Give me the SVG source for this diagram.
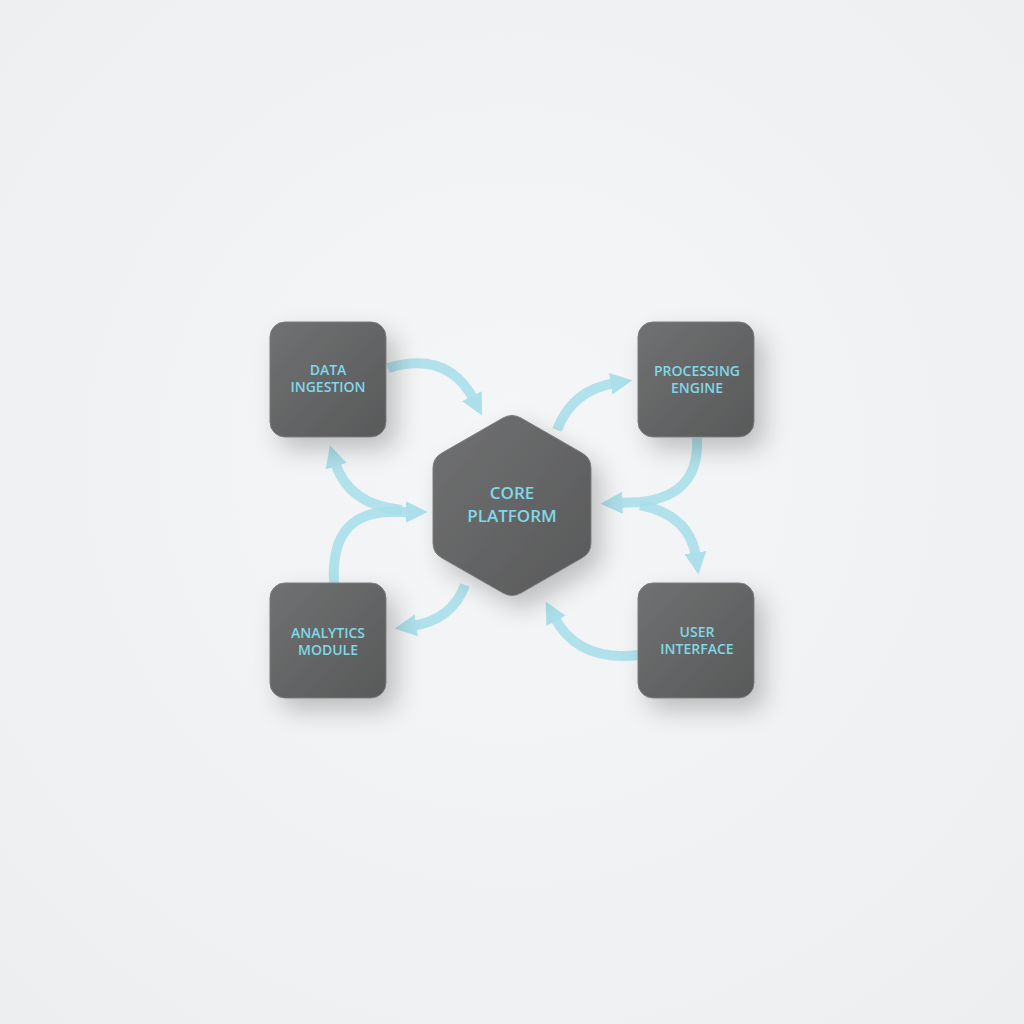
<svg xmlns="http://www.w3.org/2000/svg" width="1024" height="1024" viewBox="0 0 1024 1024">
  <defs>
    <radialGradient id="bg" cx="50%" cy="45%" r="75%">
      <stop offset="0" stop-color="#f5f6f7"/>
      <stop offset="1" stop-color="#eceeef"/>
    </radialGradient>
    <linearGradient id="box" x1="0" y1="0" x2="1" y2="1">
      <stop offset="0" stop-color="#707172"/>
      <stop offset="1" stop-color="#58595a"/>
    </linearGradient>
    <filter id="shadow" x="-40%" y="-40%" width="190%" height="190%">
      <feDropShadow dx="10" dy="12" stdDeviation="12" flood-color="#000" flood-opacity="0.22"/>
    </filter>
    <marker id="ah" viewBox="0 0 10 10" refX="2" refY="5" markerWidth="22" markerHeight="24" markerUnits="userSpaceOnUse" orient="auto">
      <path d="M0,0 L10,5 L0,10 Z" fill="#a3dde9"/>
    </marker>
    <style>
      .node rect, .node path { fill: url(#box); filter: url(#shadow); stroke: #7a7b7c; stroke-width: 1; }
      .lbl { font-family: "Open Sans", "Liberation Sans", sans-serif; font-size: 14px; font-weight: 600; fill: #80d8e8; text-anchor: middle; }
      .big { font-size: 17px; }
      .conn path { fill: none; stroke: #a8dfea; stroke-width: 10; stroke-linecap: butt; opacity: 0.88; }
    </style>
  </defs>
  <rect width="1024" height="1024" fill="url(#bg)"/>

  <g id="connectors" class="conn">
    <path d="M388 368 Q448 350 474 400" marker-end="url(#ah)"/>
    <path d="M402 510 Q348 505 335 462" marker-end="url(#ah)"/>
    <path d="M334 583 Q330 514 388 512 L410 512" marker-end="url(#ah)"/>
    <path d="M557 430 Q572 390 615 383" marker-end="url(#ah)"/>
    <path d="M697 438 Q700 496 640 502 L618 503" marker-end="url(#ah)"/>
    <path d="M640 505 Q690 515 696 557" marker-end="url(#ah)"/>
    <path d="M638 655 Q578 662 554 617" marker-end="url(#ah)"/>
    <path d="M465 585 Q452 620 412 626" marker-end="url(#ah)"/>
  </g>

  <g id="data-ingestion" class="node">
    <rect x="270" y="322" width="116" height="115" rx="15"/>
    <text class="lbl" x="328" y="375">DATA</text>
    <text class="lbl" x="328" y="392">INGESTION</text>
  </g>
  <g id="processing-engine" class="node">
    <rect x="638" y="322" width="116" height="115" rx="15"/>
    <text class="lbl" x="697" y="376">PROCESSING</text>
    <text class="lbl" x="697" y="393">ENGINE</text>
  </g>
  <g id="analytics-module" class="node">
    <rect x="270" y="583" width="116" height="115" rx="15"/>
    <text class="lbl" x="328" y="638">ANALYTICS</text>
    <text class="lbl" x="328" y="655">MODULE</text>
  </g>
  <g id="user-interface" class="node">
    <rect x="638" y="583" width="116" height="115" rx="15"/>
    <text class="lbl" x="697" y="637">USER</text>
    <text class="lbl" x="697" y="654">INTERFACE</text>
  </g>
  <g id="core-platform" class="node">
    <path d="M503 418 Q512 413 521 418 L582 453 Q591 458 591 468 L591 543 Q591 553 582 558 L521 593 Q512 598 503 593 L442 558 Q433 553 433 543 L433 468 Q433 458 442 453 Z"/>
    <text class="lbl big" x="512" y="499">CORE</text>
    <text class="lbl big" x="512" y="522">PLATFORM</text>
  </g>
</svg>
